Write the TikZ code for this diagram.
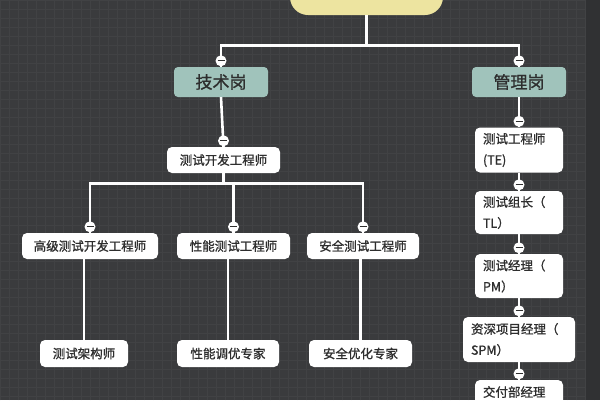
\documentclass[tikz,border=0pt]{standalone}
\usepackage{fontspec}
\usepackage{tikz}
\usetikzlibrary{positioning}
\newfontfamily\cjk[FakeBold=1.1]{Noto Sans CJK SC}

\definecolor{bgdark}{HTML}{3A3B3D}
\definecolor{bgline}{HTML}{414244}
\definecolor{bgedge}{HTML}{303133}
\definecolor{rootyellow}{HTML}{EDE4A0}
\definecolor{teal}{HTML}{A0C3BB}
\definecolor{inkgray}{HTML}{2E2E2E}

\begin{document}
\begin{tikzpicture}[x=1pt, y=-1pt,
    branch/.style={draw=white, line width=2.6pt},
    postbox/.style={fill=teal, rounded corners=4pt, minimum width=94pt, minimum height=30pt,
        text=inkgray, font=\cjk\fontsize{17}{19}\selectfont, inner sep=0pt},
    jobbox/.style={fill=white, rounded corners=5pt, minimum height=26pt,
        text=inkgray, font=\cjk\fontsize{12.5}{21}\selectfont, inner sep=0pt},
    tallbox/.style={jobbox, align=left, minimum height=45pt, text width=#1-16pt, minimum width=#1},
    knob/.style={fill=white, draw=none}]

    \useasboundingbox (0,0) rectangle (600,400);
    \fill[bgdark] (0,0) rectangle (600,400);
    \draw[bgline, line width=0.4pt, step=9pt] (0,0) grid (600,400);
    \fill[bgedge] (586,0) rectangle (600,400);

    \begin{scope}
    \clip (0,0) rectangle (600,400);

    \node[fill=rootyellow, rounded corners=18pt, minimum width=153pt, minimum height=50pt] (root) at (366.5,-10) {};

    \node[postbox] (tech) at (221,82) {技术岗};
    \node[postbox] (mgmt) at (519,82) {管理岗};

    \node[jobbox, minimum width=113pt] (dev) at (223.5,160) {测试开发工程师};
    \node[jobbox, minimum width=136pt] (sdet) at (90,246) {高级测试开发工程师};
    \node[jobbox, minimum width=113pt] (perf) at (233.5,246) {性能测试工程师};
    \node[jobbox, minimum width=112pt] (sec) at (363,246) {安全测试工程师};
    \node[jobbox, minimum width=88pt, minimum height=27pt] (arch) at (84,353.5) {测试架构师};
    \node[jobbox, minimum width=102pt, minimum height=27pt] (tune) at (228,353.5) {性能调优专家};
    \node[jobbox, minimum width=103pt, minimum height=27pt] (secx) at (360.5,353.5) {安全优化专家};

    \node[tallbox=88pt] (te) at (519,150) {测试工程师\\(TE)};
    \node[tallbox=88pt, minimum height=43pt] (tl) at (519,212.5) {测试组长（\\TL）};
    \node[tallbox=88pt, minimum height=44pt] (pm) at (519,276) {测试经理（\\PM）};
    \node[tallbox=112pt] (spm) at (519,339.5) {资深项目经理（\\SPM）};
    \node[tallbox=88pt, minimum height=44pt] (head) at (519,402) {交付部经理\\\mbox{}};

    % connectors
    \draw[branch] (root.south) -- ++(0,30) -| (tech.north);
    \draw[branch] (root.south) -- ++(0,30) -| (mgmt.north);
    \draw[branch] (tech.south) -- (dev.north);
    \draw[branch] (dev.south) -- ++(0,10) -| (sdet.north);
    \draw[branch] (dev.south) -- ++(0,10) -| (perf.north);
    \draw[branch] (dev.south) -- ++(0,10) -| (sec.north);
    \draw[branch] (arch.north |- sdet.south) -- (arch.north);
    \draw[branch] (tune.north |- perf.south) -- (tune.north);
    \draw[branch] (secx.north |- sec.south) -- (secx.north);
    \draw[branch] (mgmt.south) -- (te.north);
    \draw[branch] (te.south) -- (tl.north);
    \draw[branch] (tl.south) -- (pm.north);
    \draw[branch] (pm.south) -- (spm.north);
    \draw[branch] (spm.south) -- (head.north);

    % collapse knobs
    \foreach \n in {tech,mgmt,dev,sdet,perf,sec,te,tl,pm,spm,head} {
        \fill[knob] ([yshift=6pt]\n.north) circle (5.5pt);
        \draw[inkgray, line width=1pt] ([xshift=-3.5pt, yshift=6pt]\n.north) -- ([xshift=3.5pt, yshift=6pt]\n.north);
    }
    \end{scope}

\end{tikzpicture}
\end{document}
